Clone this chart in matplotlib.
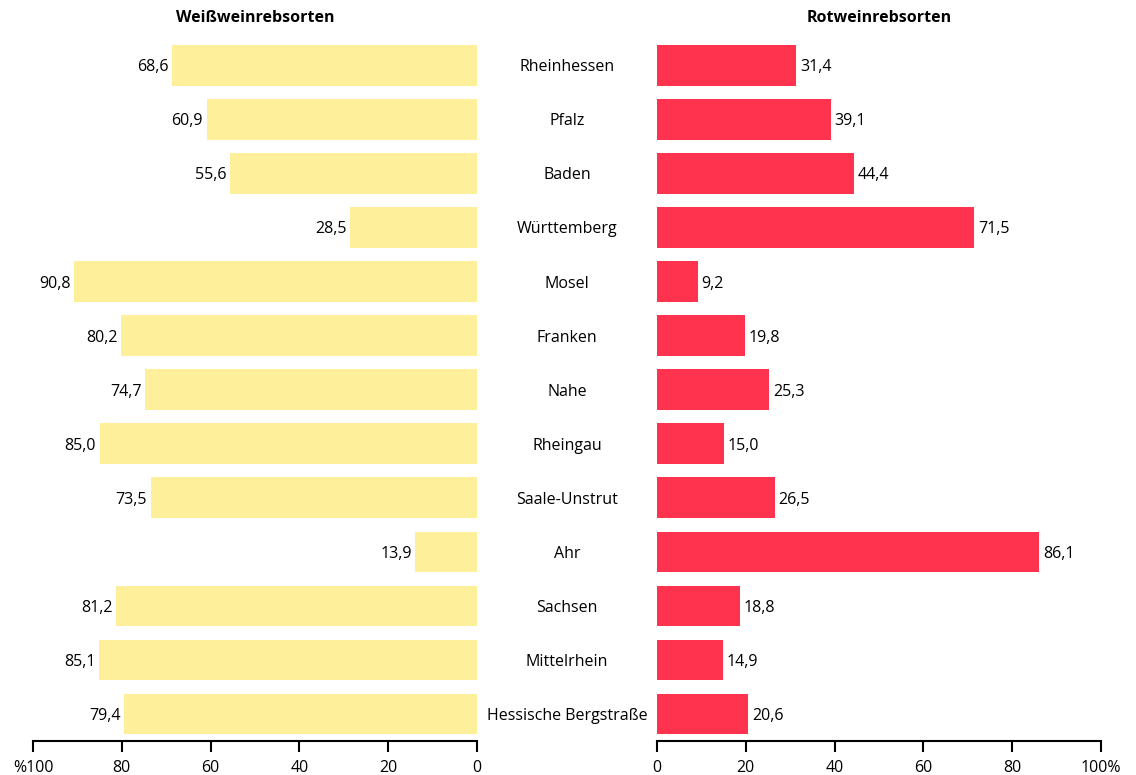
import matplotlib
matplotlib.use("Agg")
import matplotlib.pyplot as plt

regions = ["Rheinhessen", "Pfalz", "Baden", "Württemberg", "Mosel", "Franken", "Nahe",
           "Rheingau", "Saale-Unstrut", "Ahr", "Sachsen", "Mittelrhein", "Hessische Bergstraße"]
weiss = [68.6, 60.9, 55.6, 28.5, 90.8, 80.2, 74.7, 85.0, 73.5, 13.9, 81.2, 85.1, 79.4]
rot = [31.4, 39.1, 44.4, 71.5, 9.2, 19.8, 25.3, 15.0, 26.5, 86.1, 18.8, 14.9, 20.6]
left_ticklabels = ["%100", "80", "60", "40", "20", "0"]
right_ticklabels = ["0", "20", "40", "60", "80", "100%"]
ticks = [100, 80, 60, 40, 20, 0]

plt.rcParams['font.family'] = ['Open Sans', 'DejaVu Sans']
W, H = 1136, 775
fig = plt.figure(figsize=(W / 100, H / 100), dpi=100)

top_px, bot_px = 38.3, 741
b = 1 - bot_px / H
h = (bot_px - top_px) / H
axL = fig.add_axes([33 / W, b, 444 / W, h])
axR = fig.add_axes([657 / W, b, 444 / W, h])

yellow = "#FEF09B"
red = "#FF334D"
fs = 11.5
ypos = list(range(len(regions)))

axL.barh(ypos, weiss, height=0.75, color=yellow)
axR.barh(ypos, rot, height=0.75, color=red)

for ax in (axL, axR):
    ax.set_ylim(12.5, -0.5)
    ax.set_yticks([])
    for s in ("top", "left", "right"):
        ax.spines[s].set_visible(False)
    ax.spines["bottom"].set_linewidth(1.5)
    ax.tick_params(axis="x", length=8, width=1.5, labelsize=fs, pad=6)

axL.set_xlim(100, 0)
axL.set_xticks(ticks)
axL.set_xticklabels(left_ticklabels)
axR.set_xlim(0, 100)
axR.set_xticks(ticks[::-1])
axR.set_xticklabels(right_ticklabels)

for y, v in zip(ypos, weiss):
    axL.text(v + 0.8, y, f"{v:.1f}".replace(".", ","), ha="right", va="center_baseline", fontsize=fs)
for y, v in zip(ypos, rot):
    axR.text(v + 0.8, y, f"{v:.1f}".replace(".", ","), ha="left", va="center_baseline", fontsize=fs)

# region labels centered between axes
for y, r in zip(ypos, regions):
    yf = axL.transData.transform((0, y))[1] / H
    fig.text(567 / W, yf, r, ha="center", va="center_baseline", fontsize=fs)

fig.text(255 / W, 1 - 18 / H, "Weißweinrebsorten", ha="center", va="center", fontsize=fs, fontweight="bold")
fig.text(879 / W, 1 - 18 / H, "Rotweinrebsorten", ha="center", va="center", fontsize=fs, fontweight="bold")

fig.savefig("out.png", dpi=100)
